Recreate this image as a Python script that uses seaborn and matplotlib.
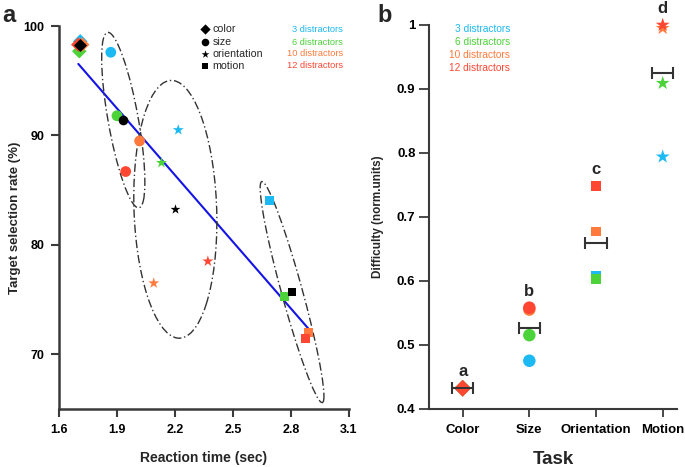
import matplotlib
matplotlib.use("Agg")
import matplotlib.pyplot as plt
import matplotlib.transforms as transforms
from matplotlib.patches import Ellipse
import numpy as np
import pandas as pd
import seaborn as sns

# ---- data -------------------------------------------------------------
tasks = ["Color", "Size", "Orientation", "Motion"]
distractors = ["3 distractors", "6 distractors", "10 distractors", "12 distractors"]
colors = ["#1CB9F2", "#4CD33A", "#FF7A3C", "#FF4633"]

# panel a: reaction time (sec) / target selection rate (%) per distractor count
color_rt = [1.710, 1.705, 1.720, 1.700]
color_rate = [98.6, 97.7, 98.3, 98.3]
size_rt = [1.868, 1.900, 2.017, 1.945]
size_rate = [97.6, 91.8, 89.5, 86.7]
orient_rt = [2.217, 2.130, 2.090, 2.370]
orient_rate = [90.5, 87.5, 76.5, 78.5]
motion_rt = [2.690, 2.765, 2.890, 2.877]
motion_rate = [84.05, 75.3, 72.0, 71.4]

# panel b: difficulty (norm. units)
color_diff = [0.432, 0.432, 0.432, 0.432]
size_diff = [0.475, 0.515, 0.555, 0.558]
orient_diff = [0.608, 0.603, 0.677, 0.748]
motion_diff = [0.794, 0.909, 0.995, 1.000]

group_letters = ["a", "b", "c", "d"]

rt_table = [color_rt, size_rt, orient_rt, motion_rt]
rate_table = [color_rate, size_rate, orient_rate, motion_rate]
diff_table = [color_diff, size_diff, orient_diff, motion_diff]

df = pd.DataFrame(
    [
        (task, dist, rt_table[i][j], rate_table[i][j], diff_table[i][j])
        for i, task in enumerate(tasks)
        for j, dist in enumerate(distractors)
    ],
    columns=["task", "distractors", "rt", "rate", "difficulty"],
)
palette = dict(zip(distractors, colors))
means = df.groupby("task", sort=False)[["rt", "rate", "difficulty"]].mean().reindex(tasks)

markers_a = {"Color": "D", "Size": "o", "Orientation": "*", "Motion": "s"}
sizes_a = {"Color": 55, "Size": 60, "Orientation": 70, "Motion": 42}
markers_b = {"Color": "D", "Size": "o", "Orientation": "s", "Motion": "*"}
sizes_b = {"Color": 8.5, "Size": 9.0, "Orientation": 6.8, "Motion": 10.5}

# ---- style ------------------------------------------------------------
sns.set_style("ticks")
plt.rcParams["font.family"] = ["Liberation Sans", "DejaVu Sans"]
plt.rcParams["axes.edgecolor"] = "#3a3a3a"
plt.rcParams["xtick.color"] = "#3a3a3a"
plt.rcParams["ytick.color"] = "#3a3a3a"
plt.rcParams["xtick.labelcolor"] = "black"
plt.rcParams["ytick.labelcolor"] = "black"


def confidence_ellipse(x, y, ax, n_std=2.0, **kwargs):
    cov = np.cov(x, y, bias=True)
    r = cov[0, 1] / np.sqrt(cov[0, 0] * cov[1, 1])
    ell = Ellipse((0, 0), width=2 * np.sqrt(1 + r), height=2 * np.sqrt(1 - r),
                  facecolor="none", **kwargs)
    tr = (transforms.Affine2D()
          .rotate_deg(45)
          .scale(np.sqrt(cov[0, 0]) * n_std, np.sqrt(cov[1, 1]) * n_std)
          .translate(np.mean(x), np.mean(y)))
    ell.set_transform(tr + ax.transData)
    ax.add_patch(ell)


fig = plt.figure(figsize=(6.85, 4.67), dpi=100)
ax_a = fig.add_axes([0.0861, 0.1242, 0.4234, 0.8201])
ax_b = fig.add_axes([0.6267, 0.1248, 0.3612, 0.8217])

# ---- panel a ----------------------------------------------------------
sns.regplot(data=df, x="rt", y="rate", scatter=False, ci=None, truncate=True,
            color="#1414E6", line_kws={"lw": 1.5, "zorder": 1}, ax=ax_a)

for task in ["Size", "Orientation", "Motion"]:
    sub = df[df["task"] == task]
    confidence_ellipse(sub["rt"].to_numpy(), sub["rate"].to_numpy(), ax_a,
                       edgecolor="#333333", lw=1.0, linestyle=(0, (6, 2, 1, 2)), zorder=2)

for task in tasks:
    sub = df[df["task"] == task]
    sns.scatterplot(data=sub, x="rt", y="rate", hue="distractors", palette=palette,
                    hue_order=distractors, marker=markers_a[task], s=sizes_a[task],
                    linewidth=0, legend=False, ax=ax_a, zorder=3)
    m = means.loc[[task]]
    sns.scatterplot(data=m, x="rt", y="rate", color="black", marker=markers_a[task],
                    s=sizes_a[task] * 0.8, linewidth=0, legend=False, ax=ax_a, zorder=4)

ax_a.set_xlim(1.6, 3.1)
ax_a.set_ylim(65, 100)
ax_a.set_xticks([1.6, 1.9, 2.2, 2.5, 2.8, 3.1])
ax_a.set_yticks([70, 80, 90, 100])
ax_a.set_xticklabels(["1.6", "1.9", "2.2", "2.5", "2.8", "3.1"])
ax_a.set_xlabel("Reaction time (sec)", fontsize=10, fontweight="bold", labelpad=11)
ax_a.set_ylabel("Target selection rate (%)", fontsize=9.5, fontweight="bold", labelpad=2)
ax_a.tick_params(axis="both", labelsize=9, length=5.5, width=1.5, pad=5)
for lab in ax_a.get_xticklabels() + ax_a.get_yticklabels():
    lab.set_fontweight("bold")
sns.despine(ax=ax_a)
for sp in ax_a.spines.values():
    sp.set_linewidth(1.8)

# legend (symbols + coloured distractor labels)
leg_rows = [0.992, 0.958, 0.927, 0.896]
for task, label, yy in zip(["Color", "Size", "Orientation", "Motion"],
                           ["color", "size", "orientation", "motion"], leg_rows):
    ax_a.scatter(0.503, yy, marker=markers_a[task], s=sizes_a[task] * 0.5, color="black",
                 linewidth=0, transform=ax_a.transAxes, clip_on=False)
    ax_a.text(0.530, yy, label, transform=ax_a.transAxes, fontsize=7.7, va="center", ha="left")
for dist, col, yy in zip(distractors, colors, leg_rows):
    ax_a.text(0.979, yy, dist, transform=ax_a.transAxes, fontsize=6.7, color=col,
              va="center", ha="right")

# ---- panel b ----------------------------------------------------------
for task in tasks:
    sub = df[df["task"] == task]
    sns.stripplot(data=sub, x="task", y="difficulty", hue="distractors", order=tasks,
                  hue_order=distractors, palette=palette, jitter=False,
                  marker=markers_b[task], size=sizes_b[task], linewidth=0,
                  legend=False, ax=ax_b, zorder=3)
for coll in ax_b.collections:
    coll.set_clip_on(False)

positions = np.arange(len(tasks))
ax_b.errorbar(positions, means["difficulty"].to_numpy(), xerr=0.16, fmt="none",
              ecolor="#333333", elinewidth=1.5, capsize=4.5, capthick=1.5, zorder=4)

tops = df.groupby("task", sort=False)["difficulty"].max().reindex(tasks)
for pos, letter, top in zip(positions, group_letters, tops):
    ax_b.text(pos, top + 0.019, letter, ha="center", va="baseline",
              fontsize=12, fontweight="bold")

ax_b.set_xlim(-0.5, 3.21)
ax_b.set_ylim(0.4, 1.0)
ax_b.set_yticks([0.4, 0.5, 0.6, 0.7, 0.8, 0.9, 1.0])
ax_b.set_yticklabels(["0.4", "0.5", "0.6", "0.7", "0.8", "0.9", "1"])
ax_b.set_xlabel("Task", fontsize=13.5, fontweight="bold", labelpad=11)
ax_b.set_ylabel("Difficulty (norm.units)", fontsize=8.5, fontweight="bold", labelpad=9)
ax_b.tick_params(axis="y", labelsize=9.5, length=7, width=1.3, pad=3)
ax_b.tick_params(axis="x", labelsize=9.5, length=6, width=1.3, pad=5)
for lab in ax_b.get_xticklabels() + ax_b.get_yticklabels():
    lab.set_fontweight("bold")
sns.despine(ax=ax_b)
for sp in ax_b.spines.values():
    sp.set_linewidth(1.5)

leg_rows_b = [0.990, 0.956, 0.922, 0.888]
for dist, col, yy in zip(distractors, colors, leg_rows_b):
    ax_b.text(0.326, yy, dist, transform=ax_b.transAxes, fontsize=7.3, color=col,
              va="center", ha="right")

# panel letters
fig.text(0.004, 0.992, "a", fontsize=17, fontweight="bold", va="top", ha="left")
fig.text(0.551, 0.992, "b", fontsize=17, fontweight="bold", va="top", ha="left")

fig.savefig("out.png", dpi=100)
